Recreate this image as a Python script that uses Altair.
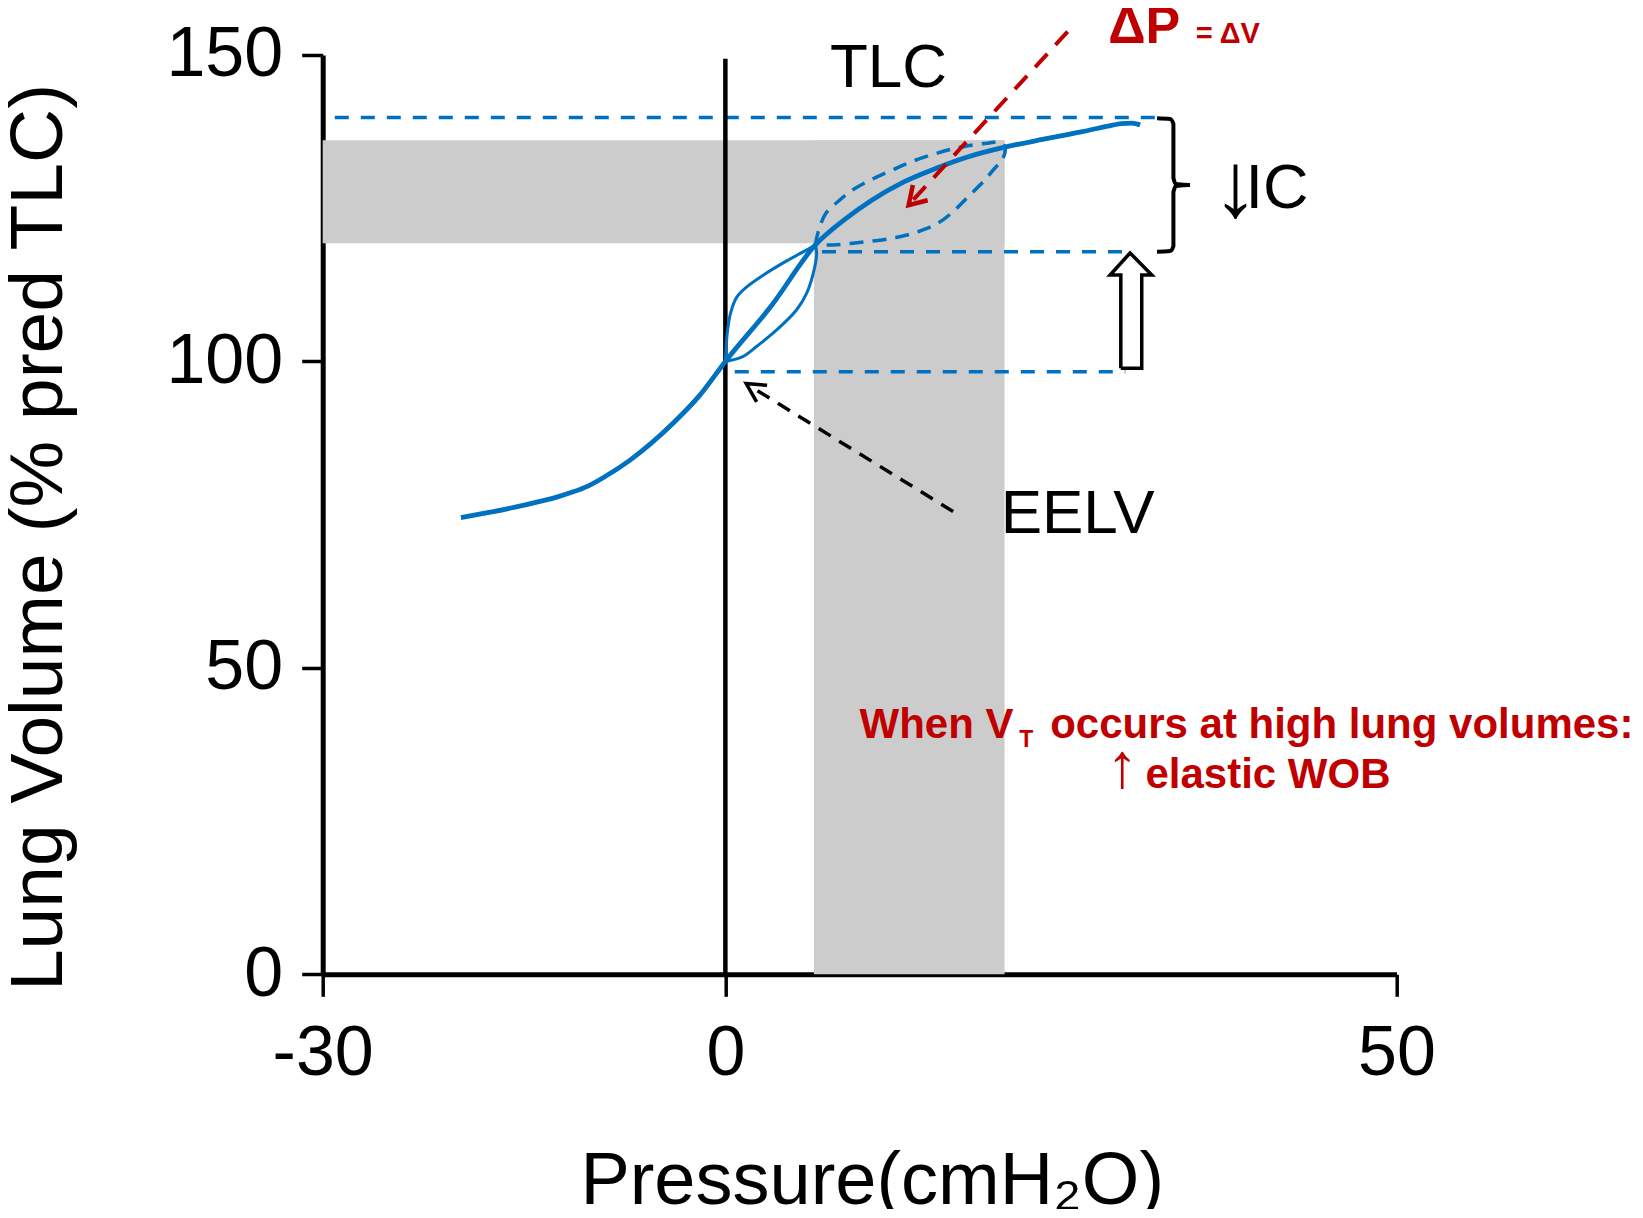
import altair as alt
import pandas as pd

# ---------------- data ----------------
x_ticks = [-30, 0, 50]
y_ticks = [0, 50, 100, 150]

# main (thick) pressure-volume curve
main_p = [-19.7, -17.5, -14.9, -12.5, -11.5, -10.2, -8.9, -7.1, -3.9, -1.9, 0.0, 3.5, 6.7,
          8.8, 10.9, 13.3, 15.8, 18.1, 20.9, 23.8, 26.6, 28.5, 29.5, 30.3, 30.9]
main_v = [74.5, 75.4, 76.6, 77.9, 78.6, 79.7, 81.3, 83.9, 89.9, 94.5, 100.0, 109.3, 119.0,
          123.0, 126.3, 129.3, 131.6, 133.4, 135.0, 136.3, 137.5, 138.4, 138.8, 138.9, 138.6]

# thin loop (tidal breath at rest): upper-left and lower-right branches
loop_ul_p = [0.0, 0.15, 0.4, 0.85, 1.5, 2.7, 4.4, 5.9, 6.7]
loop_ul_v = [100.0, 104.8, 108.0, 110.5, 112.0, 113.9, 116.2, 118.0, 119.0]
loop_lr_p = [0.0, 1.3, 2.3, 3.8, 5.3, 6.05, 6.55, 6.8, 6.7]
loop_lr_v = [100.0, 100.8, 102.4, 105.1, 108.4, 111.1, 114.4, 117.6, 119.0]

# dashed loop (tidal breath at high lung volume)
dloop_p = [6.7, 6.95, 7.5, 8.5, 9.5, 11.0, 12.4, 14.0, 15.8, 17.6, 19.5, 20.6, 20.85,
           20.6, 20.1, 19.2, 18.1, 17.0, 15.8, 14.4, 12.9, 11.2, 9.5, 8.0, 6.7]
dloop_v = [119.0, 121.4, 124.2, 126.3, 128.0, 129.8, 131.2, 132.7, 134.0, 135.0, 135.6, 135.7, 134.6,
           132.8, 131.6, 129.3, 126.9, 124.5, 122.5, 121.2, 120.3, 119.7, 119.3, 119.0, 119.0]

# grey shaded bands (volume band and pressure band)
band_p1 = [-30.0, 6.6]
band_p2 = [20.8, 20.8]
band_v1 = [119.3, 0.0]
band_v2 = [136.1, 136.1]

# horizontal dashed reference lines
hline_v = [139.8, 117.9, 98.3]
hline_p1 = [-29.1, 7.2, 0.7]
hline_p2 = [32.0, 30.3, 29.8]

# vertical zero-pressure line
vline_p = [0.0]
vline_v1 = [0.0]
vline_v2 = [149.4]

# red dashed arrow (ΔP)
red_shaft_p = [25.5, 13.8]
red_shaft_v = [153.8, 125.9]
red_head_p = [13.97, 13.65, 15.07]
red_head_v = [128.8, 125.5, 126.3]

# black dashed arrow (EELV)
blk_shaft_p = [16.97, 1.75]
blk_shaft_v = [75.5, 96.1]
blk_head_p = [2.33, 1.55, 3.11]
blk_head_v = [93.4, 96.4, 96.1]

# open block arrow (EELV rise)
block_p = [29.46, 29.46, 28.66, 30.15, 31.77, 31.02, 31.02, 29.46]
block_v = [98.9, 114.1, 114.1, 117.7, 114.1, 114.1, 98.9, 98.9]

# brace for IC
brace_p = [32.16, 33.13, 33.38, 33.38, 33.58, 34.62, 33.58, 33.38, 33.38, 33.13, 32.16]
brace_v = [139.66, 139.55, 138.74, 129.93, 128.95, 128.79, 128.62, 127.64, 118.83, 118.01, 117.9]

# text annotations
big_labels = ["TLC", "EELV"]
big_p = [12.15, 26.24]
big_v = [144.8, 71.95]
down_label = ["↓"]
down_p = [36.3]
down_v = [123.7]
ic_label = ["IC"]
ic_p = [38.75]
ic_v = [125.1]
dp_label = ["ΔP"]
dp_p = [28.52]
dp_v = [151.9]
dv_label = ["= ΔV"]
dv_p = [35.05]
dv_v = [151.9]
when_label = ["When V"]
when_p = [10.0]
when_v = [38.5]
sub_label = ["T"]
sub_p = [21.9]
sub_v = [37.1]
occ_label = ["occurs at high lung volumes:"]
occ_p = [67.65]
occ_v = [38.5]
up_label = ["↑"]
up_p = [28.4]
up_v = [30.6]
wob_label = ["elastic WOB"]
wob_p = [31.3]
wob_v = [30.35]

# ---------------- styling ----------------
FONT = "Liberation Sans, Arial, DejaVu Sans, sans-serif"
BLUE = "#0070C0"
RED = "#C00000"
GRAY = "#CCCCCC"

xs = alt.Scale(domain=[-30, 50], nice=False, zero=False)
ys = alt.Scale(domain=[0, 150], nice=False, zero=False)

x_axis = alt.Axis(values=x_ticks, title="Pressure(cmH₂O)", grid=False,
                  domainColor="black", domainWidth=5, tickColor="black", tickWidth=3.5,
                  tickSize=22, labelFontSize=70, labelFont=FONT, labelColor="black",
                  labelExpr="datum.value + ''",
                  labelBaseline="alphabetic", labelPadding=78, labelFlush=False,
                  labelOverlap=False, titleFont=FONT, titleFontSize=74,
                  titleFontWeight="normal", titleColor="black", titleX=549,
                  titleY=229, titleBaseline="alphabetic", titleAlign="center")
y_axis = alt.Axis(values=y_ticks, title="Lung Volume (% pred TLC)", grid=False,
                  domainColor="black", domainWidth=5, tickColor="black", tickWidth=3.5,
                  tickSize=21, labelFontSize=70, labelFont=FONT, labelColor="black",
                  labelPadding=19, labelFlush=False, labelOverlap=False,
                  titleFont=FONT, titleFontSize=75, titleFontWeight="normal",
                  titleColor="black", titleAngle=270, titleX=-261, titleY=482,
                  titleBaseline="alphabetic", titleAlign="center")


def X(f):
    return alt.X(f, type="quantitative", scale=xs, axis=x_axis)


def Y(f):
    return alt.Y(f, type="quantitative", scale=ys, axis=y_axis)


def seq(p, v):
    return pd.DataFrame({"p": p, "v": v, "i": list(range(len(p)))})


def txt(labels, p, v):
    return pd.DataFrame({"p": p, "v": v, "label": labels})


bands = alt.Chart(pd.DataFrame({"p1": band_p1, "p2": band_p2, "v1": band_v1, "v2": band_v2})).mark_rect(
    color=GRAY).encode(x=X("p1"), x2="p2", y=Y("v1"), y2="v2")

hlines = alt.Chart(pd.DataFrame({"v": hline_v, "p1": hline_p1, "p2": hline_p2})).mark_rule(
    color=BLUE, strokeWidth=3.5, strokeDash=[14, 12]).encode(x=X("p1"), x2="p2", y=Y("v"))

vline = alt.Chart(pd.DataFrame({"p": vline_p, "v1": vline_v1, "v2": vline_v2})).mark_rule(
    color="black", strokeWidth=4.5).encode(x=X("p"), y=Y("v1"), y2="v2")


def curve(p, v, **kw):
    return alt.Chart(seq(p, v)).mark_line(**kw).encode(
        x=X("p"), y=Y("v"), order=alt.Order("i:Q"))


loop_ul = curve(loop_ul_p, loop_ul_v, color=BLUE, strokeWidth=3, interpolate="catmull-rom")
loop_lr = curve(loop_lr_p, loop_lr_v, color=BLUE, strokeWidth=3, interpolate="catmull-rom")
dloop = curve(dloop_p, dloop_v, color=BLUE, strokeWidth=3.5, strokeDash=[14, 9], interpolate="catmull-rom")
main = curve(main_p, main_v, color=BLUE, strokeWidth=4.8, interpolate="monotone")

red_shaft = curve(red_shaft_p, red_shaft_v, color=RED, strokeWidth=4, strokeDash=[18, 12])
red_head = curve(red_head_p, red_head_v, color=RED, strokeWidth=4.5)
blk_shaft = curve(blk_shaft_p, blk_shaft_v, color="black", strokeWidth=3.5, strokeDash=[14, 10])
blk_head = curve(blk_head_p, blk_head_v, color="black", strokeWidth=3.5)
block = curve(block_p, block_v, color="black", strokeWidth=3.5, strokeJoin="miter")
brace = curve(brace_p, brace_v, color="black", strokeWidth=4, interpolate="monotone")


def text_layer(labels, p, v, **kw):
    return alt.Chart(txt(labels, p, v)).mark_text(baseline="alphabetic", font=FONT, **kw).encode(
        x=X("p"), y=Y("v"), text="label:N")


t_big = text_layer(big_labels, big_p, big_v, align="center", fontSize=62, color="black")
t_down = text_layer(down_label, down_p, down_v, align="left", fontSize=92, color="black")
t_ic = text_layer(ic_label, ic_p, ic_v, align="left", fontSize=63, color="black")
t_dp = text_layer(dp_label, dp_p, dp_v, align="left", fontSize=52, fontWeight="bold", color=RED)
t_dv = text_layer(dv_label, dv_p, dv_v, align="left", fontSize=29, fontWeight="bold", color=RED)
t_when = text_layer(when_label, when_p, when_v, align="left", fontSize=42, fontWeight="bold", color=RED)
t_sub = text_layer(sub_label, sub_p, sub_v, align="left", fontSize=23, fontWeight="bold", color=RED)
t_occ = text_layer(occ_label, occ_p, occ_v, align="right", fontSize=42, fontWeight="bold", color=RED)
t_up = text_layer(up_label, up_p, up_v, align="left", fontSize=63, color=RED)
t_wob = text_layer(wob_label, wob_p, wob_v, align="left", fontSize=42, fontWeight="bold", color=RED)

chart = alt.layer(
    bands, hlines, vline, loop_ul, loop_lr, dloop, main,
    red_shaft, red_head, blk_shaft, blk_head, block, brace,
    t_big, t_down, t_ic, t_dp, t_dv, t_when, t_sub, t_occ, t_up, t_wob,
).properties(
    width=1073.8, height=919.3,
    padding={"left": 314.7, "top": 47, "right": 238, "bottom": 235},
    autosize=alt.AutoSizeParams(type="none"),
    background="white",
).configure_view(stroke=None)

chart.save("out.html", embed_options={"renderer": "svg", "actions": False})
